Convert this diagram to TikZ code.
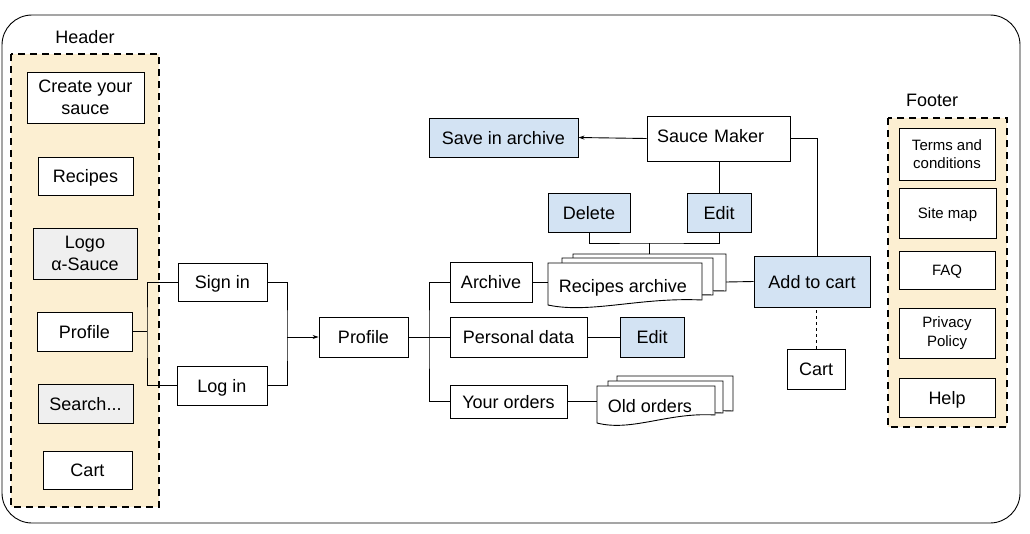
\documentclass[tikz,border=0pt]{standalone}
\usepackage{fontspec}
\setmainfont{Liberation Sans}
\usetikzlibrary{arrows.meta}
\definecolor{hdrfill}{HTML}{FCEFD2}
\definecolor{bluefill}{HTML}{D3E3F3}
\definecolor{grayfill}{HTML}{EFEFEF}
\begin{document}
\begin{tikzpicture}[x=1pt,y=-1pt,line width=0.9pt,
  big/.style={font=\fontsize{18}{21.5}\selectfont},
  small/.style={font=\fontsize{15}{18.5}\selectfont},
  one/.style={text height=13pt,text depth=0pt},
  onesmall/.style={text height=10.8pt,text depth=0pt},
  box/.style={draw,fill=white,inner sep=0pt,align=center,big},
  bluebox/.style={box,fill=bluefill},
  graybox/.style={box,fill=grayfill},
  grp/.style={draw,fill=hdrfill,line width=1.5pt,dash pattern=on 7pt off 5pt},
  doc/.style={draw,fill=white},
  arr/.style={-{Stealth[length=6pt,width=4pt]}}]
\useasboundingbox (0,0) rectangle (1030,533);
\draw[rounded corners=30pt] (2,15) rectangle (1020,523);

% Header
\node[big,one] (hdr) at (85,37) {Header};
\path[grp] (11,54) rectangle (159,507);
\node[box,minimum width=117,minimum height=51] (hcreate) at (85.5,97.5) {Create your\\sauce};
\node[box,one,minimum width=95,minimum height=38] (hrecipes) at (85.5,176) {Recipes};
\node[graybox,minimum width=104,minimum height=51] (hlogo) at (85,253.5) {Logo\\α-Sauce};
\node[box,one,minimum width=95,minimum height=39] (hprofile) at (84.5,331.5) {Profile};
\node[graybox,one,minimum width=95,minimum height=39] (hsearch) at (85.5,403.5) {Search...};
\node[box,one,minimum width=89,minimum height=38] (hcart) at (87.5,470) {Cart};

% Footer
\node[big,one] (ftr) at (932,100) {Footer};
\path[grp] (888,118) rectangle (1007,427);
\node[box,small,minimum width=96,minimum height=52] (terms) at (947,154) {Terms and\\conditions};
\node[box,small,onesmall,minimum width=97,minimum height=50] (sitemap) at (947.5,213) {Site map};
\node[box,small,onesmall,minimum width=96,minimum height=38] (faq) at (947,270) {FAQ};
\node[box,small,minimum width=96,minimum height=50] (privacy) at (947,333) {Privacy\\Policy};
\node[box,one,minimum width=96,minimum height=39] (help) at (947,397.5) {Help};

% Login area
\node[box,one,minimum width=89,minimum height=38] (signin) at (222.5,282) {Sign in};
\node[box,one,minimum width=90,minimum height=39] (login) at (222,385.5) {Log in};
\node[box,one,minimum width=89,minimum height=40] (profile) at (363.5,337) {Profile};
\coordinate (hj) at (147,331.5);
\coordinate (sj) at (287,337);
\draw (hprofile.east) -- (hj);
\draw (signin.west) -| (hj) |- (login.west);
\draw (signin.east) -| (sj) |- (login.east);
\draw[arr] (sj) -- (profile.west);

% Profile children
\node[box,one,minimum width=82,minimum height=40] (archive) at (491,282) {Archive};
\node[box,one,minimum width=137,minimum height=40] (pdata) at (518.5,337) {Personal data};
\node[box,one,minimum width=117,minimum height=33] (orders) at (508.5,401.5) {Your orders};
\coordinate (pj) at (429,337);
\draw (profile.east) -- (pdata.west);
\draw (archive.west) -| (pj) |- (orders.west);

% Sauce maker
\node[bluebox,one,minimum width=149,minimum height=39] (save) at (503.5,137.5) {Save in archive};
\node[box,minimum width=143,minimum height=45,text width=123,align=left,text height=8pt,text depth=0pt] (maker) at (718.5,138.5) {Sauce Maker};
\node[bluebox,one,minimum width=82,minimum height=39] (delete) at (589,212.5) {Delete};
\node[bluebox,one,minimum width=64,minimum height=39] (edita) at (719,212.5) {Edit};
\node[bluebox,one,minimum width=64,minimum height=40] (editb) at (652,337) {Edit};
\node[bluebox,one,minimum width=116,minimum height=51] (addcart) at (812,281.5) {Add to cart};
\node[box,one,minimum width=58,minimum height=40] (cartb) at (816,369) {Cart};
\draw[arr] (maker.west) -- (save.east);
\draw (maker.south -| edita.north) -- (edita.north);
\draw (maker.east) -| ([xshift=5pt]addcart.north);
\draw[dashed,line width=0.8pt] (cartb.north) -- (cartb.north |- addcart.south);
\draw (pdata.east) -- (editb.west);

% Recipes archive (multi document)
\path[doc] (573,254) -- (726,254) -- (726,291) .. controls (660,289) and (620,302) .. (573,296) -- cycle;
\path[doc] (562,258) -- (713,258) -- (713,295) .. controls (650,293) and (610,306) .. (562,300) -- cycle;
\path[doc] (548,263) -- (702,263) -- (702,300) .. controls (640,297) and (590,314) .. (548,305) -- cycle;
\node[big,one,inner sep=0pt] (rec) at (623,286) {Recipes archive};
\coordinate (recL) at (548,282);
\coordinate (recR) at (726,282);
\coordinate (recT) at (649,254);
\coordinate (recJ) at (649,243);
\draw (archive.east) -- (recL);
\draw (recR) -- (addcart.west);
\draw (delete.south) |- (recJ) -| (edita.south);
\draw (recJ) -- (recT);

% Old orders (multi document)
\path[doc] (617,376) -- (733,376) -- (733,411) .. controls (685,409) and (650,420) .. (617,416) -- cycle;
\path[doc] (608,381) -- (723,381) -- (723,413) .. controls (675,411) and (640,422) .. (608,418) -- cycle;
\path[doc] (597,386) -- (715,386) -- (715,415) .. controls (668,412) and (632,432) .. (597,423) -- cycle;
\node[big,one,inner sep=0pt] (old) at (650,406) {Old orders};
\coordinate (oldL) at (597,401.5);
\draw (orders.east) -- (oldL);
\end{tikzpicture}
\end{document}
